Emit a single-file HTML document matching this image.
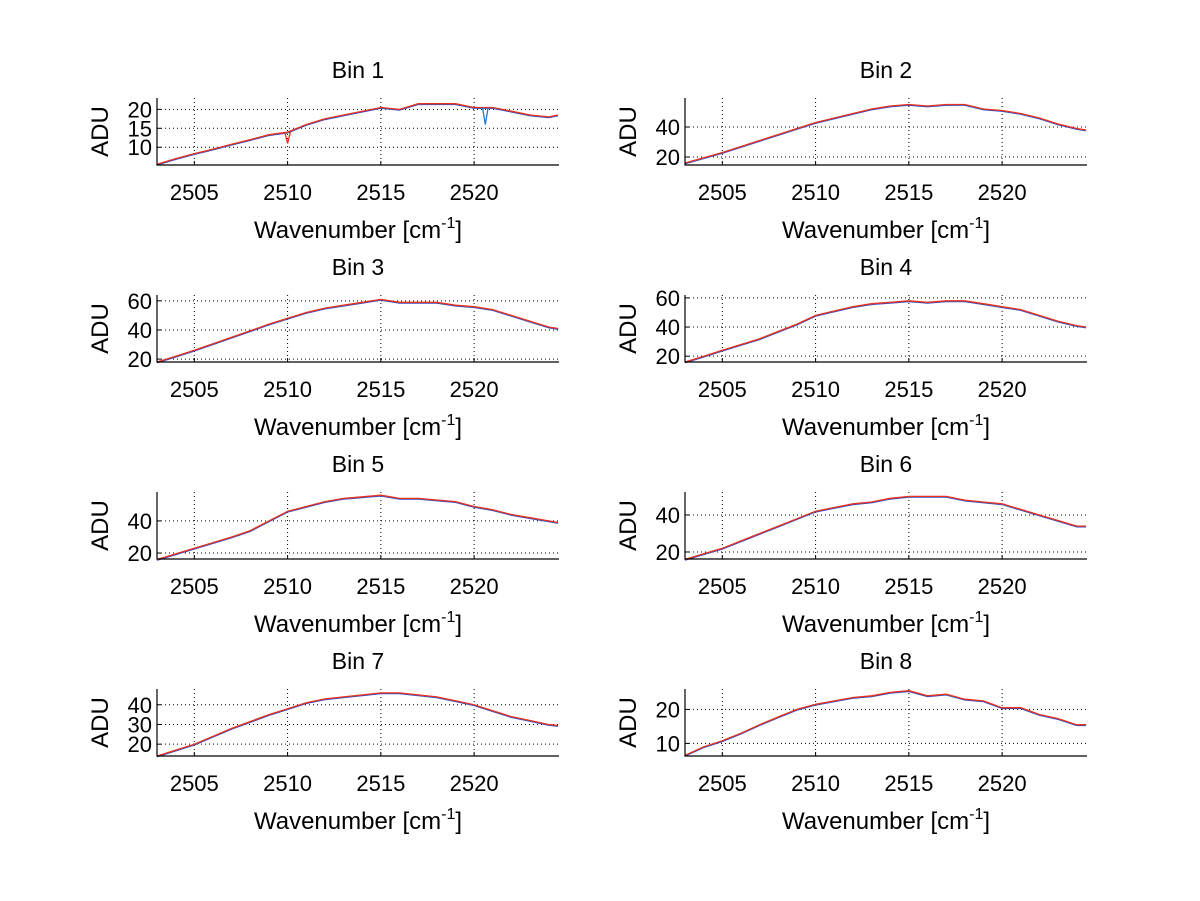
<!DOCTYPE html>
<html><head><meta charset="utf-8"><style>
html,body{margin:0;padding:0;background:#fff;}
svg{display:block;font-family:"Liberation Sans",sans-serif;}
</style></head><body>
<svg id="fig" width="1200" height="901" viewBox="0 0 1200 901"></svg>
<script>
const xs = [2503,2504,2505,2506,2507,2508,2509,2510,2511,2512,2513,2514,2515,2516,2517,2518,2519,2520,2521,2522,2523,2524,2524.5];
const bin1 = [5.5,7,8.3,9.5,10.8,12,13.3,14,16,17.5,18.5,19.5,20.5,20,21.5,21.5,21.5,20.5,20.5,19.5,18.5,18,18.5];
const bin2 = [16,19.5,23,27,31,35,39,43,46,49,52,54,55,54,55,55,52,51,49,46,42,39,38];
const bin3 = [18,22,26,30.5,35,39.5,44,48,52,55,57,59,61,59,59,59,57,56,54,50,46,42,41];
const bin4 = [16,20,24,28,32,37,42,48,51,54,56,57,58,57,58,58,56,54,52,48,44,41,40];
const bin5 = [16,19.5,23,26.5,30,34,40,46,49,52,54,55,56,54,54,53,52,49,47,44,42,40,39];
const bin6 = [16,19,22,26,30,34,38,42,44,46,47,49,50,50,50,48,47,46,43,40,37,34,34];
const bin7 = [14,17,20,24,28,31.5,35,38,41,43,44,45,46,46,45,44,42,40,37,34,32,30,29.5];
const bin8 = [6.5,9,10.8,13,15.5,17.8,20,21.5,22.5,23.5,24,25,25.5,24,24.5,23,22.5,20.5,20.5,18.5,17.3,15.5,15.5];
const series = [bin1,bin2,bin3,bin4,bin5,bin6,bin7,bin8];
const bin1DipX = [2510.0, 2520.6];
const bin1DipY = [11, 16];
const yRanges = [[5.3,23],[14.7,59.3],[18,64],[16,62],[16.3,58],[16.2,52.4],[14,48],[6.3,26]];
const yTicks = [[10,15,20],[20,40],[20,40,60],[20,40,60],[20,40],[20,40],[20,30,40],[10,20]];
const xTicks = [2505,2510,2515,2520];
const titles = ["Bin 1","Bin 2","Bin 3","Bin 4","Bin 5","Bin 6","Bin 7","Bin 8"];
const XMIN = 2503.0, XMAX = 2524.55;

const NS = "http://www.w3.org/2000/svg";
const svg = document.getElementById('fig');
function mk(tag, attrs, parent){const e=document.createElementNS(NS,tag);for(const k in attrs)e.setAttribute(k,attrs[k]);(parent||svg).appendChild(e);return e;}
function interp(d,x){for(let k=0;k<xs.length-1;k++){if(x>=xs[k]&&x<=xs[k+1]){const t=(x-xs[k])/(xs[k+1]-xs[k]);return d[k]+(d[k+1]-d[k])*t;}}return d[d.length-1];}

for(let i=0;i<8;i++){
  const col=i%2, row=Math.floor(i/2);
  const L = col===0?157:685, R = L+402;
  const T = 98+row*197, B = T+67;
  const g = mk('g',{});
  
  
  const xS = v => L + (v-XMIN)/(XMAX-XMIN)*(R-L);
  const [y0,y1]=yRanges[i];
  const yS = v => B - (v-y0)/(y1-y0)*(B-T);
  xTicks.forEach(t=>{
    const l=mk('line',{x1:xS(t),x2:xS(t),y1:T,y2:B,stroke:'#000','stroke-width':1,'stroke-dasharray':'1,3'},g);
    
    
    mk('line',{x1:xS(t),x2:xS(t),y1:B,y2:B-4,stroke:'#000','stroke-width':1},g);
    const tx=mk('text',{x:xS(t),y:B+35,'font-size':22,'text-anchor':'middle'},g);
    tx.textContent=t;
    
    
  });
  yTicks[i].forEach(t=>{
    const l=mk('line',{x1:L,x2:R,y1:yS(t),y2:yS(t),stroke:'#000','stroke-width':1,'stroke-dasharray':'1,3'},g);
    
    
    mk('line',{x1:L,x2:L+4,y1:yS(t),y2:yS(t),stroke:'#000','stroke-width':1},g);
    const tx=mk('text',{x:L-5,y:yS(t)+8,'font-size':22,'text-anchor':'end'},g);
    tx.textContent=t;
    
    
  });
  const d = series[i];
  const ptsB = xs.map((x,k)=>xS(x).toFixed(1)+','+(yS(d[k])+0.8).toFixed(1)).join(' ');
  const lb=mk('polyline',{points:ptsB,fill:'none',stroke:'#3050c8','stroke-width':1.2},g);
  
  
  const pts = xs.map((x,k)=>xS(x).toFixed(1)+','+yS(d[k]).toFixed(1)).join(' ');
  const lr=mk('polyline',{points:pts,fill:'none',stroke:'#e8321e','stroke-width':1.3},g);
  
  
  if(i===0){
    bin1DipX.forEach((dx,k)=>{
      const base=interp(d,dx);
      const dp=mk('path',{d:`M${xS(dx-0.15)},${yS(base)}L${xS(dx)},${yS(bin1DipY[k])}L${xS(dx+0.15)},${yS(base)}`,fill:'none',stroke:k===0?'#e8321e':'#1f77d0','stroke-width':1.3},g);
      
      
    });
  }
  const ax=mk('path',{d:`M${L},${T}V${B}H${R}`,fill:'none',stroke:'#000','stroke-width':1.2},g);
  
  
  const ti=mk('text',{x:(L+R)/2,y:T-20,'font-size':23,'text-anchor':'middle'},g);
  ti.textContent=titles[i];
  
  
  const yl=mk('text',{x:0,y:0,'font-size':24,'text-anchor':'middle',transform:`translate(${L-49},${(T+B)/2}) rotate(-90)`},g);
  yl.textContent='ADU';
  
  
  const xl=mk('text',{x:(L+R)/2,y:B+73,'font-size':24,'text-anchor':'middle'},g);
  
  
  xl.appendChild(document.createTextNode('Wavenumber [cm'));
  const sup=mk('tspan',{dy:-10,'font-size':16},xl); sup.textContent='-1';
  const rest=mk('tspan',{dy:10},xl); rest.textContent=']';
}
</script>
</body></html>
